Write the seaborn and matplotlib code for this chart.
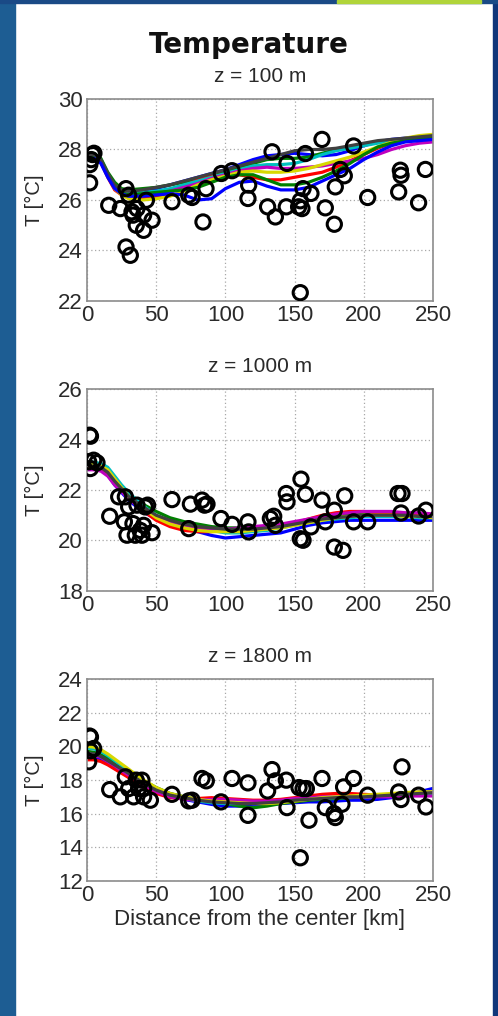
import numpy as np
import pandas as pd
import seaborn as sns
import matplotlib.pyplot as plt
from matplotlib.patches import Rectangle

# model distances (km) for the ensemble curves
line_dist = [0, 5, 10, 15, 20, 25, 30, 40, 50, 60, 70, 80, 90, 100, 110, 120, 130,
             140, 150, 160, 170, 180, 190, 200, 210, 220, 230, 240, 250]

# ensemble members, z = 100 m
t100_blue_hi = [27.75, 27.8, 27.6, 27.0, 26.6, 26.35, 26.3, 26.35, 26.45, 26.6, 26.75, 26.9, 27.05, 27.2, 27.4,
                27.6, 27.75, 27.8, 27.85, 27.8, 27.75, 27.8, 27.95, 28.15, 28.3, 28.4, 28.45, 28.5, 28.55]
t100_blue_lo = [27.6, 27.65, 27.45, 26.9, 26.45, 26.25, 26.15, 26.15, 26.2, 26.25, 26.2, 26.0, 26.05, 26.45, 26.7,
                26.75, 26.55, 26.4, 26.4, 26.5, 26.75, 27.0, 27.25, 27.6, 27.9, 28.15, 28.3, 28.35, 28.4]
t100_green_hi = [27.8, 27.85, 27.65, 27.1, 26.7, 26.45, 26.4, 26.45, 26.5, 26.6, 26.7, 26.8, 26.95, 27.1, 27.3,
                 27.45, 27.6, 27.65, 27.65, 27.7, 27.85, 28.0, 28.1, 28.2, 28.3, 28.35, 28.4, 28.45, 28.5]
t100_green_lo = [27.7, 27.75, 27.55, 26.95, 26.5, 26.3, 26.2, 26.25, 26.3, 26.35, 26.4, 26.5, 26.7, 26.9, 27.0,
                 27.0, 26.8, 26.6, 26.6, 26.7, 26.9, 27.15, 27.45, 27.8, 28.1, 28.25, 28.35, 28.4, 28.45]
t100_red = [27.65, 27.7, 27.5, 26.9, 26.4, 26.2, 26.1, 26.05, 26.1, 26.3, 26.55, 26.8, 26.95, 27.0, 27.0,
            26.9, 26.8, 26.8, 26.9, 27.0, 27.1, 27.3, 27.55, 27.8, 28.05, 28.25, 28.35, 28.4, 28.45]
t100_cyan = [27.7, 27.75, 27.55, 27.0, 26.55, 26.35, 26.3, 26.3, 26.35, 26.45, 26.6, 26.75, 26.9, 27.05, 27.2,
             27.35, 27.4, 27.4, 27.45, 27.6, 27.8, 27.95, 28.05, 28.15, 28.25, 28.3, 28.35, 28.4, 28.4]
t100_magenta = [27.6, 27.65, 27.5, 26.95, 26.5, 26.3, 26.2, 26.2, 26.25, 26.35, 26.5, 26.65, 26.85, 27.0, 27.15,
                27.25, 27.3, 27.25, 27.25, 27.3, 27.35, 27.45, 27.55, 27.65, 27.8, 28.0, 28.15, 28.25, 28.3]
t100_yellow = [27.7, 27.75, 27.55, 27.0, 26.45, 26.2, 26.05, 26.0, 26.05, 26.15, 26.35, 26.6, 26.8, 26.95, 27.1,
               27.15, 27.1, 27.1, 27.15, 27.25, 27.4, 27.55, 27.7, 27.9, 28.1, 28.3, 28.45, 28.55, 28.6]
t100_black = [27.75, 27.8, 27.6, 27.05, 26.6, 26.4, 26.35, 26.4, 26.5, 26.6, 26.75, 26.9, 27.05, 27.2, 27.35,
              27.5, 27.65, 27.8, 27.95, 28.0, 28.0, 28.05, 28.15, 28.25, 28.35, 28.4, 28.45, 28.5, 28.55]

# ensemble members, z = 1000 m
t1000_blue = [22.85, 22.85, 22.8, 22.6, 22.2, 21.9, 21.6, 21.15, 20.85, 20.65, 20.5, 20.35, 20.2, 20.1, 20.15,
              20.2, 20.25, 20.3, 20.45, 20.6, 20.7, 20.75, 20.8, 20.8, 20.8, 20.8, 20.8, 20.8, 20.8]
t1000_green = [23.0, 23.0, 22.95, 22.75, 22.4, 22.1, 21.85, 21.45, 21.15, 20.9, 20.75, 20.65, 20.55, 20.5, 20.5,
               20.5, 20.55, 20.6, 20.7, 20.8, 20.9, 21.0, 21.05, 21.05, 21.05, 21.05, 21.0, 21.0, 20.95]
t1000_red = [22.9, 22.9, 22.85, 22.65, 22.3, 22.0, 21.7, 21.2, 20.8, 20.55, 20.4, 20.35, 20.35, 20.4, 20.45,
             20.5, 20.55, 20.6, 20.7, 20.85, 21.0, 21.1, 21.15, 21.15, 21.1, 21.1, 21.05, 21.0, 21.0]
t1000_cyan = [23.1, 23.1, 23.05, 22.9, 22.55, 22.2, 21.9, 21.4, 21.0, 20.75, 20.6, 20.5, 20.4, 20.3, 20.3,
              20.35, 20.4, 20.5, 20.6, 20.7, 20.8, 20.85, 20.9, 20.95, 20.95, 20.95, 20.95, 20.9, 20.9]
t1000_magenta = [22.8, 22.8, 22.75, 22.55, 22.2, 21.95, 21.65, 21.25, 20.95, 20.75, 20.6, 20.5, 20.45, 20.45, 20.5,
                 20.55, 20.6, 20.65, 20.75, 20.85, 20.95, 21.05, 21.1, 21.15, 21.15, 21.15, 21.1, 21.1, 21.05]
t1000_yellow = [23.0, 23.0, 22.95, 22.8, 22.45, 22.1, 21.75, 21.3, 20.9, 20.65, 20.5, 20.4, 20.35, 20.35, 20.35,
                20.4, 20.45, 20.5, 20.6, 20.7, 20.8, 20.9, 20.95, 21.0, 21.0, 21.0, 20.95, 20.95, 20.9]
t1000_black = [22.95, 22.95, 22.9, 22.7, 22.35, 22.05, 21.75, 21.35, 21.0, 20.8, 20.65, 20.55, 20.5, 20.45, 20.45,
               20.45, 20.5, 20.55, 20.65, 20.75, 20.85, 20.9, 20.95, 21.0, 21.0, 21.0, 21.0, 20.95, 20.95]

# ensemble members, z = 1800 m
t1800_blue = [19.4, 19.35, 19.2, 18.95, 18.7, 18.45, 18.2, 17.65, 17.3, 17.05, 16.85, 16.7, 16.55, 16.45, 16.45,
              16.5, 16.55, 16.6, 16.65, 16.7, 16.7, 16.75, 16.8, 16.8, 16.85, 16.95, 17.1, 17.3, 17.5]
t1800_green = [19.7, 19.65, 19.5, 19.3, 19.05, 18.8, 18.55, 18.0, 17.55, 17.2, 17.0, 16.85, 16.75, 16.6, 16.45,
               16.35, 16.45, 16.6, 16.7, 16.8, 16.85, 16.9, 16.95, 17.0, 17.05, 17.05, 17.1, 17.15, 17.2]
t1800_red = [19.2, 19.2, 19.1, 18.9, 18.65, 18.4, 18.15, 17.6, 17.2, 16.95, 16.9, 16.9, 16.95, 16.9, 16.85,
             16.8, 16.8, 16.85, 16.95, 17.05, 17.15, 17.2, 17.2, 17.15, 17.1, 17.1, 17.1, 17.1, 17.1]
t1800_cyan = [19.9, 19.85, 19.7, 19.45, 19.15, 18.85, 18.55, 17.95, 17.45, 17.1, 16.9, 16.75, 16.65, 16.6, 16.6,
              16.65, 16.7, 16.75, 16.8, 16.85, 16.9, 16.95, 17.0, 17.05, 17.05, 17.05, 17.1, 17.15, 17.2]
t1800_magenta = [19.5, 19.45, 19.35, 19.1, 18.85, 18.55, 18.3, 17.75, 17.3, 17.0, 16.85, 16.8, 16.85, 16.85, 16.8,
                 16.75, 16.75, 16.8, 16.9, 16.95, 17.0, 17.0, 17.0, 17.0, 17.0, 17.0, 17.05, 17.05, 17.05]
t1800_yellow = [20.0, 19.95, 19.8, 19.55, 19.25, 18.95, 18.65, 18.05, 17.55, 17.2, 17.0, 16.85, 16.75, 16.7, 16.65,
                16.6, 16.6, 16.65, 16.75, 16.85, 16.95, 17.0, 17.05, 17.1, 17.15, 17.2, 17.25, 17.3, 17.3]
t1800_black = [19.6, 19.55, 19.4, 19.15, 18.9, 18.65, 18.4, 17.85, 17.4, 17.1, 16.95, 16.8, 16.7, 16.65, 16.6,
               16.6, 16.65, 16.7, 16.8, 16.85, 16.9, 16.95, 17.0, 17.0, 17.05, 17.1, 17.15, 17.2, 17.25]

# observations (circles)
obs100_x = [1.9, 2, 3, 4, 5, 15.7, 24.1, 28.2, 30.1, 28.2, 31.3, 32.5, 33.2, 36.1, 35.6, 40.9, 40.9, 42.9, 47.0,
            61.4, 73.5, 75.9, 83.8, 86.0, 97.1, 104.8, 116.8, 116.3, 130.5, 133.7, 136.1, 144.0, 144.5, 152.9,
            154.1, 155.3, 156.1, 157.8, 154.1, 161.8, 169.8, 172.2, 179.4, 178.7, 183.0, 185.9, 192.6, 202.8,
            225.2, 226.4, 226.9, 244.5, 239.6]
obs100_t = [26.68, 27.4, 27.6, 27.8, 27.85, 25.79, 25.66, 26.45, 26.19, 24.14, 23.81, 25.53, 25.40, 25.66, 25.0,
            24.8, 25.40, 25.99, 25.20, 25.93, 26.19, 26.10, 25.13, 26.45, 27.05, 27.16, 26.59, 26.06, 25.73,
            27.91, 25.33, 25.73, 27.45, 25.73, 25.97, 25.66, 26.45, 27.84, 22.33, 26.26, 28.40, 25.69, 26.52,
            25.04, 27.21, 26.96, 28.14, 26.10, 26.32, 27.18, 26.98, 27.21, 25.89]

obs1000_x = [1.9, 2.5, 1.2, 4.8, 7.2, 2.4, 16.4, 22.9, 27.7, 27.0, 28.9, 30.1, 33.2, 34.9, 36.1, 38.5, 39.7, 40.9,
             42.1, 43.8, 47.0, 61.4, 73.5, 74.7, 83.1, 85.0, 86.7, 96.8, 104.8, 116.3, 116.8, 132.5, 134.9,
             136.1, 144.0, 144.5, 154.6, 154.1, 156.1, 157.8, 161.8, 169.8, 172.2, 178.7, 178.7, 185.0, 186.2,
             192.6, 202.8, 224.7, 227.6, 226.9, 239.6, 244.9]
obs1000_t = [24.17, 24.13, 23.12, 23.18, 23.08, 22.85, 20.96, 21.73, 21.73, 20.74, 20.21, 21.33, 20.67, 20.21,
             21.40, 20.40, 20.21, 20.60, 21.33, 21.40, 20.31, 21.62, 20.47, 21.44, 21.60, 21.40, 21.44, 20.87,
             20.64, 20.74, 20.34, 20.87, 20.96, 20.60, 21.86, 21.53, 22.43, 20.07, 20.01, 21.83, 20.54, 21.60,
             20.74, 21.20, 19.74, 19.61, 21.77, 20.74, 20.74, 21.86, 21.86, 21.09, 20.97, 21.20]

obs1800_x = [1.9, 2.5, 1.2, 2.4, 4.8, 16.4, 24.1, 27.7, 30.1, 33.7, 35.6, 37.3, 39.7, 40.9, 40.9, 45.8, 61.4,
             73.5, 75.9, 83.1, 86.2, 96.8, 104.8, 116.3, 116.3, 130.5, 133.7, 136.1, 144.0, 144.5, 154.1, 153.2,
             156.1, 158.5, 160.4, 169.8, 172.2, 178.5, 179.4, 184.2, 185.4, 192.6, 202.8, 225.2, 227.6, 226.9,
             239.6, 244.9]
obs1800_t = [20.61, 20.55, 19.08, 19.73, 19.87, 17.43, 17.00, 18.19, 17.49, 17.0, 17.99, 17.49, 17.99, 17.49,
             17.0, 16.80, 17.15, 16.76, 16.80, 18.09, 17.95, 16.70, 18.09, 17.83, 15.90, 17.35, 18.62, 17.95,
             17.99, 16.36, 13.38, 17.55, 17.49, 17.49, 15.61, 18.09, 16.36, 16.00, 15.77, 16.56, 17.59, 18.09,
             17.10, 17.29, 18.78, 16.84, 17.10, 16.40]

depth_titles = ['z = 100 m', 'z = 1000 m', 'z = 1800 m']
y_ranges = [(22, 30), (18, 26), (12, 24)]

matlab_colors = {'b': '#0000ff', 'g': '#008000', 'r': '#ff0000', 'c': '#00bfbf',
                 'm': '#bf00bf', 'y': '#d8d800', 'k': '#404040'}

panels = [
    ({'b1': t100_blue_hi, 'g1': t100_green_hi, 'r': t100_red, 'c': t100_cyan, 'm': t100_magenta,
      'y': t100_yellow, 'g2': t100_green_lo, 'k': t100_black, 'b2': t100_blue_lo}, obs100_x, obs100_t),
    ({'b': t1000_blue, 'g': t1000_green, 'r': t1000_red, 'c': t1000_cyan, 'm': t1000_magenta,
      'y': t1000_yellow, 'k': t1000_black}, obs1000_x, obs1000_t),
    ({'b': t1800_blue, 'g': t1800_green, 'r': t1800_red, 'c': t1800_cyan, 'm': t1800_magenta,
      'y': t1800_yellow, 'k': t1800_black}, obs1800_x, obs1800_t),
]

sns.set_style('white')
plt.rcParams['font.family'] = ['Liberation Sans', 'DejaVu Sans']

fig = plt.figure(figsize=(4.98, 10.16), dpi=100)
fig.patch.set_facecolor('white')

# slide frame
fig.add_artist(Rectangle((0, 0), 15 / 498, 1, transform=fig.transFigure, color='#1d5d93', zorder=0))
fig.add_artist(Rectangle((493 / 498, 0), 5 / 498, 1, transform=fig.transFigure, color='#10367a', zorder=0))
fig.add_artist(Rectangle((0, 1 - 3 / 1016), 1, 3 / 1016, transform=fig.transFigure, color='#1a4a86', zorder=0))
fig.add_artist(Rectangle((337 / 498, 1 - 3 / 1016), 144 / 498, 3 / 1016, transform=fig.transFigure,
                         color='#b0d43a', zorder=1))

fig.text(0.5, 1 - 45 / 1016, 'Temperature', ha='center', va='center', fontsize=20,
         fontweight='bold', family='DejaVu Sans', color='#111111')

bottoms = [1 - 301 / 1016, 1 - 591 / 1016, 1 - 881 / 1016]
text_col = '#2a2a2a'

for i, (members, ox, oy) in enumerate(panels):
    ax = fig.add_axes([87 / 498, bottoms[i], 346 / 498, 202 / 1016])
    rows = []
    for name, vals in members.items():
        for d, t in zip(line_dist, vals):
            rows.append({'dist': d, 'T': t, 'member': name})
    df = pd.DataFrame(rows)
    pal = {name: matlab_colors[name[0]] for name in members}
    sns.lineplot(data=df, x='dist', y='T', hue='member', palette=pal, estimator=None,
                 legend=False, linewidth=2.3, ax=ax, zorder=2)
    sns.scatterplot(x=ox, y=oy, marker='o', s=105, facecolor='none', edgecolor='black',
                    linewidth=2.2, ax=ax, zorder=3)

    ax.set_xlim(0, 250)
    ax.set_ylim(*y_ranges[i])
    ax.set_xticks(range(0, 251, 50))
    ax.set_yticks(range(y_ranges[i][0], y_ranges[i][1] + 1, 2))
    ax.grid(True, linestyle=(0, (1, 2)), color='#a8a8a8', linewidth=0.9)
    for s in ax.spines.values():
        s.set_color('#8c8c8c')
        s.set_linewidth(1.2)
    ax.tick_params(labelsize=16, colors='#8c8c8c', labelcolor=text_col, direction='in',
                   length=3, pad=3)
    ax.set_title(depth_titles[i], fontsize=15, pad=12, color=text_col)
    ax.set_ylabel('T [°C]', fontsize=14.5, color=text_col, labelpad=10)
    if i == 2:
        ax.set_xlabel('Distance from the center [km]', fontsize=16, color=text_col, labelpad=2)
    else:
        ax.set_xlabel('')

fig.savefig('out.png', dpi=100)
